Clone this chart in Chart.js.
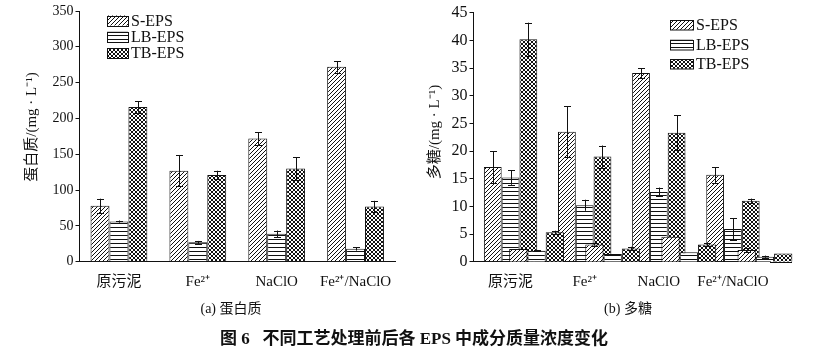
<!DOCTYPE html>
<html>
<head>
<meta charset="utf-8">
<script src="https://cdn.jsdelivr.net/npm/chart.js@4.4.1/dist/chart.umd.min.js"></script>
<style>
  body { margin: 0; background: #fff; width: 824px; height: 350px; position: relative; overflow: hidden; }
  canvas { position: absolute; top: 0; }
  .cap { position: absolute; transform: translateX(-50%); white-space: nowrap; color: #111;
         font-family: "Liberation Serif", "Noto Sans CJK SC", serif; }
</style>
</head>
<body>
<canvas id="protein" width="410" height="300" style="left:0"></canvas>
<canvas id="poly" width="414" height="300" style="left:410px"></canvas>
<canvas id="polyOverlay" width="414" height="300" style="left:410px"></canvas>
<div class="cap" style="left:231px;top:297px;font-size:14px">(a) 蛋白质</div>
<div class="cap" style="left:628px;top:297px;font-size:14px">(b) 多糖</div>
<div class="cap" style="left:414px;top:324px;font-size:17px;font-weight:bold">图 6&nbsp;&nbsp;&nbsp;不同工艺处理前后各 EPS 中成分质量浓度变化</div>
<script>
// categories and series
const categories = ['原污泥', 'Fe²⁺', 'NaClO', 'Fe²⁺/NaClO'];
const seriesNames = ['S-EPS', 'LB-EPS', 'TB-EPS'];

// (a) protein, mg/L
const proteinS = [78, 127, 172, 272];
const proteinLB = [56, 27, 39, 18];
const proteinTB = [216, 121, 130, 77];
const proteinSErr = [10, 22, 9, 8];
const proteinLBErr = [1.5, 2, 4.5, 2.5];
const proteinTBErr = [8, 6, 16, 8];

// (b) polysaccharide, mg/L
const polyS = [17.1, 23.5, 34.1, 15.7];
const polyLB = [15.2, 10.2, 12.6, 5.9];
const polyTB = [40.2, 19.0, 23.3, 11.0];
const polySErr = [2.9, 4.6, 0.9, 1.4];
const polyLBErr = [1.3, 1.0, 0.8, 2.0];
const polyTBErr = [3.0, 2.0, 3.2, 0.4];
// second (small) set of bars overlaid in panel b
const polyS2 = [2.3, 3.1, 4.5, 2.1];
const polyLB2 = [2.0, 1.4, 1.7, 0.9];
const polyTB2 = [5.3, 2.4, 3.1, 1.5];
const polyS2Err = [0, 0.2, 0, 0.3];
const polyLB2Err = [0.1, 0, 0, 0.2];
const polyTB2Err = [0.3, 0.3, 0.3, 0];

const ink = '#111';
const serif = '"Liberation Serif", "Noto Sans CJK SC", serif';

function makePattern(kind) {
  const c = document.createElement('canvas');
  c.width = 4; c.height = 4;
  const g = c.getContext('2d');
  g.fillStyle = '#fff';
  g.fillRect(0, 0, 4, 4);
  g.strokeStyle = ink;
  g.lineWidth = 1;
  g.beginPath();
  if (kind === 'horiz') {
    g.moveTo(0, 3.5); g.lineTo(4, 3.5);
  } else {
    g.moveTo(-1, 5); g.lineTo(5, -1);
    g.moveTo(-1, 1); g.lineTo(1, -1);
    g.moveTo(3, 5); g.lineTo(5, 3);
    if (kind === 'cross') {
      g.moveTo(-1, -1); g.lineTo(5, 5);
      g.moveTo(3, -1); g.lineTo(5, 1);
      g.moveTo(-1, 3); g.lineTo(1, 5);
    }
  }
  g.stroke();
  return g.createPattern(c, 'repeat');
}
const patterns = [makePattern('diag'), makePattern('horiz'), makePattern('cross')];

const paperPlugin = {
  id: 'paper',
  afterDatasetsDraw(chart) {
    const ctx = chart.ctx;
    const y = chart.scales.y;
    ctx.save();
    ctx.strokeStyle = ink;
    ctx.lineWidth = 1;
    chart.data.datasets.forEach((ds, di) => {
      chart.getDatasetMeta(di).data.forEach((bar, i) => {
        const e = ds.errors[i];
        if (!e) return;
        const top = y.getPixelForValue(ds.data[i] + e);
        const bot = y.getPixelForValue(ds.data[i] - e);
        const x = Math.round(bar.x) + 0.5;
        ctx.beginPath();
        ctx.moveTo(x, top); ctx.lineTo(x, bot);
        ctx.moveTo(x - 3.5, Math.round(top) + 0.5); ctx.lineTo(x + 3.5, Math.round(top) + 0.5);
        ctx.moveTo(x - 3.5, Math.round(bot) + 0.5); ctx.lineTo(x + 3.5, Math.round(bot) + 0.5);
        ctx.stroke();
      });
    });
    ctx.restore();
  },
  afterDraw(chart, args, opts) {
    if (!opts.legend) return;
    const ctx = chart.ctx;
    const area = chart.chartArea;
    ctx.save();
    ctx.fillStyle = ink;
    ctx.strokeStyle = ink;
    ctx.lineWidth = 1;
    if (opts.axisExtend) {
      const yb = Math.round(area.bottom) + 0.5;
      ctx.beginPath();
      ctx.moveTo(area.right, yb);
      ctx.lineTo(area.right + opts.axisExtend, yb);
      ctx.stroke();
    }
    // legend
    const lg = opts.legend;
    ctx.font = '16px ' + serif;
    ctx.textBaseline = 'middle';
    ctx.textAlign = 'left';
    chart.data.datasets.forEach((ds, i) => {
      const cy = lg.y + i * lg.gap;
      ctx.fillStyle = ds.backgroundColor;
      ctx.fillRect(lg.x, cy - lg.h / 2, lg.w, lg.h);
      ctx.strokeRect(lg.x + 0.5, Math.round(cy - lg.h / 2) + 0.5, lg.w, lg.h);
      ctx.fillStyle = ink;
      ctx.fillText(ds.label, lg.x + lg.w + 3, cy + 1);
    });
    // y title
    const t = opts.yTitle;
    ctx.translate(t.x, t.y);
    ctx.rotate(-Math.PI / 2);
    ctx.textAlign = 'center';
    ctx.font = '15px ' + serif;
    ctx.fillText(t.text, 0, 0);
    ctx.restore();
  }
};

function barSet(values, errors, idx) {
  return {
    label: seriesNames[idx],
    data: values,
    errors: errors,
    backgroundColor: patterns[idx],
    borderColor: ink,
    borderWidth: 1,
    categoryPercentage: 0.72,
    barPercentage: 1
  };
}

function axes(max, step, major, yWidth, xHeight, tickSize) {
  return {
    x: {
      grid: { display: false },
      border: { color: ink, width: 1 },
      ticks: { color: ink, font: { family: serif, size: 15 }, padding: 3, autoSkip: false, maxRotation: 0 },
      afterFit: (s) => { s.height = xHeight; }
    },
    y: {
      min: 0, max: max,
      grid: { drawOnChartArea: false, drawTicks: true, tickLength: 4, color: ink },
      border: { color: ink, width: 1 },
      ticks: {
        stepSize: step, color: ink, padding: 2,
        font: { family: serif, size: tickSize },
        callback: (v) => (Math.abs(v % major) < 1e-6 ? v : '')
      },
      afterFit: (s) => { s.width = yWidth; }
    }
  };
}

new Chart(document.getElementById('protein'), {
  type: 'bar',
  data: {
    labels: categories,
    datasets: [
      barSet(proteinS, proteinSErr, 0),
      barSet(proteinLB, proteinLBErr, 1),
      barSet(proteinTB, proteinTBErr, 2)
    ]
  },
  options: {
    responsive: false,
    animation: false,
    devicePixelRatio: 1,
    layout: { padding: { left: 0, top: 11, right: 15, bottom: 0 } },
    scales: axes(350, 25, 50, 79.5, 38.3, 14),
    plugins: {
      legend: { display: false },
      tooltip: { enabled: false },
      paper: {
        legend: { x: 107, y: 20.5, gap: 16.3, w: 21, h: 10 },
        yTitle: { text: '蛋白质/(mg · L⁻¹)', x: 32, y: 127 }
      }
    }
  },
  plugins: [paperPlugin]
});

new Chart(document.getElementById('poly'), {
  type: 'bar',
  data: {
    labels: categories,
    datasets: [
      barSet(polyS, polySErr, 0),
      barSet(polyLB, polyLBErr, 1),
      barSet(polyTB, polyTBErr, 2)
    ]
  },
  options: {
    responsive: false,
    animation: false,
    devicePixelRatio: 1,
    layout: { padding: { left: 0, top: 12.7, right: 54, bottom: 0 } },
    scales: axes(45, 2.5, 5, 63.5, 38.3, 16),
    plugins: {
      legend: { display: false },
      tooltip: { enabled: false },
      paper: {
        axisExtend: 22,
        legend: { x: 260, y: 25, gap: 19.5, w: 23, h: 9.5 },
        yTitle: { text: '多糖/(mg · L⁻¹)', x: 25, y: 132 }
      }
    }
  },
  plugins: [paperPlugin]
});

// the small second set of bars, drawn over panel b on the same value range
new Chart(document.getElementById('polyOverlay'), {
  type: 'bar',
  data: {
    labels: categories,
    datasets: [
      barSet(polyS2, polyS2Err, 0),
      barSet(polyLB2, polyLB2Err, 1),
      barSet(polyTB2, polyTB2Err, 2)
    ]
  },
  options: {
    responsive: false,
    animation: false,
    devicePixelRatio: 1,
    layout: { padding: { left: 88.5, top: 12.7, right: 21, bottom: 38.3 } },
    scales: {
      x: { display: false },
      y: { display: false, min: 0, max: 45 }
    },
    plugins: {
      legend: { display: false },
      tooltip: { enabled: false },
      paper: {}
    }
  },
  plugins: [paperPlugin]
});
</script>
</body>
</html>
